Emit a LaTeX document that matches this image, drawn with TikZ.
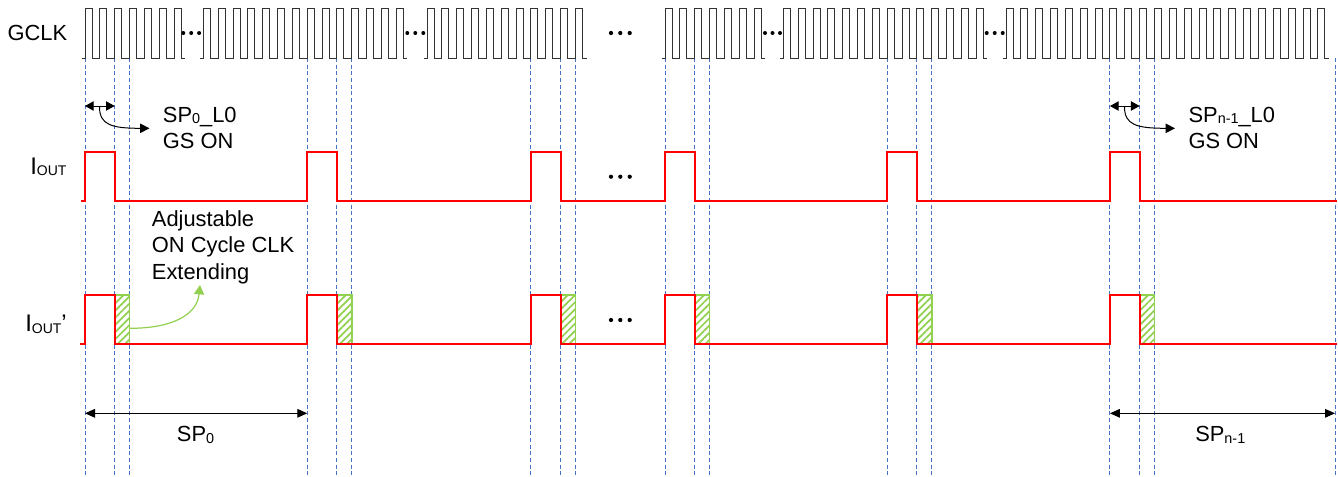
\documentclass[tikz,border=0pt]{standalone}
\usepackage{fontspec}
\setmainfont{Liberation Sans}
\usetikzlibrary{arrows.meta,patterns.meta}
\definecolor{gridblue}{RGB}{68,114,196}
\definecolor{sigred}{RGB}{255,0,0}
\definecolor{hatchgreen}{RGB}{146,208,80}
\newcommand\lowsub[1]{\raisebox{-1.2pt}{\fontsize{10.8}{12}\selectfont #1}}
\newcommand\ioutsub[1]{\raisebox{-1pt}{\fontsize{10.5}{12}\selectfont #1}}
\newcommand\clkseg[2]{%
  \draw[clk] ({#1-3.5},58) \foreach \k in {1,...,#2} { -- ({#1+(\k-1)*14.85},58) -- ++(0,-50) -- ++(7,0) -- ++(0,50) } -- ++(4,0);}
\begin{document}
\begin{tikzpicture}[x=0.75pt,y=-0.75pt,
  clk/.style={line width=0.75pt, black!80, line join=miter},
  gridline/.style={gridblue, line width=0.7pt, dash pattern=on 3pt off 2pt},
  sig/.style={sigred, line width=1.7pt, line join=miter},
  hatchbox/.style={draw=hatchgreen, line width=1.2pt, pattern={Lines[angle=45,distance=3.8pt,line width=1.3pt]}, pattern color=hatchgreen},
  lbl/.style={font=\fontsize{16.4}{19.5}\selectfont, inner sep=0pt, anchor=base west},
  ilbl/.style={font=\fontsize{18}{21}\selectfont, inner sep=0pt, anchor=base west},
  dimarr/.style={line width=0.75pt, {Triangle[length=7.5pt,width=6.5pt]}-{Triangle[length=7.5pt,width=6.5pt]}},
  smallarr/.style={line width=0.75pt, {Triangle[length=6.5pt,width=7pt]}-{Triangle[length=6.5pt,width=7pt]}},
  curvarr/.style={line width=0.75pt, -{Triangle[length=7pt,width=7pt]}},
  greenarr/.style={hatchgreen, line width=0.9pt, -{Triangle[length=7pt,width=7.5pt]}},
  dot/.style={fill=black, draw=none}
]
\useasboundingbox[fill=white] (0,0) rectangle (1338,476);

% dashed timing guides
\foreach \x in {85,114.7,129.55,307.25,336.95,351.8,530.95,560.65,575.5,665,694.7,709.55,887.25,916.95,931.8,1109.95,1139.65,1154.5,1335}
  \draw[gridline] (\x,58) -- (\x,476);

% GCLK
\node[lbl] (gclk) at (7.3,40.7) {GCLK};
\clkseg{85}{7}
\clkseg{203.3}{14}
\clkseg{427}{11}
\clkseg{665}{7}
\clkseg{783.3}{14}
\clkseg{1006}{22}
\foreach \x in {183.3,191.2,199.1,407.3,415.3,423.3,765,772.5,780,986.7,994.7,1002.7}
  \fill[dot] (\x,33) circle[radius=1.5pt];
\foreach \x in {611,620.3,629.7}
  \fill[dot] (\x,33) circle[radius=1.6pt];

% top annotations
\coordinate (a0L) at (85,106);
\coordinate (a0R) at (114.7,106);
\draw[smallarr] (a0L) -- (a0R);
\node[lbl] (sp0l0) at (162.7,122.3) {SP\lowsub{0}\_L0};
\node[lbl] (gson0) at (162.7,148) {GS ON};
\coordinate (c0s) at (99.5,107);
\coordinate (c0e) at (149.5,128.3);
\draw[curvarr] (c0s) .. controls (99.5,125) and (112,128.3) .. (c0e);

\coordinate (anL) at (1109.95,106);
\coordinate (anR) at (1139.65,106);
\draw[smallarr] (anL) -- (anR);
\node[lbl] (spnl0) at (1188.3,122.3) {SP\lowsub{n-1}\_L0};
\node[lbl] (gsonn) at (1188.3,148) {GS ON};
\coordinate (cns) at (1124.5,107);
\coordinate (cne) at (1175,128.3);
\draw[curvarr] (cns) .. controls (1124.5,125) and (1137,128.3) .. (cne);

% IOUT
\node[ilbl] (iout) at (30,174.3) {I\ioutsub{OUT}};
\draw[sig] (81,201) \foreach \a/\b in {85/114.7,307.25/336.95,530.95/560.65,665/694.7,887.25/916.95,1109.95/1139.65}
  { -- (\a,201) -- (\a,152) -- (\b,152) -- (\b,201) } -- (1337,201);
\foreach \x in {611,620.3,629.7}
  \fill[dot] (\x,176.7) circle[radius=1.6pt];

% IOUT'
\node[ilbl] (ioutp) at (25,331.7) {I\ioutsub{OUT}’};
\foreach \b/\c in {114.7/129.55,336.95/351.8,560.65/575.5,694.7/709.55,916.95/931.8,1139.65/1154.5}
  \path[hatchbox] (\b,295) rectangle (\c,344.3);
\draw[sig] (80,344.3) \foreach \a/\b in {85/114.7,307.25/336.95,530.95/560.65,665/694.7,887.25/916.95,1109.95/1139.65}
  { -- (\a,344.3) -- (\a,295) -- (\b,295) -- (\b,344.3) } -- (1337,344.3);
\foreach \x in {611,620.3,629.7}
  \fill[dot] (\x,320) circle[radius=1.6pt];

% Adjustable annotation
\node[lbl] (adj1) at (151.7,226) {Adjustable};
\node[lbl] (adj2) at (151.7,252.5) {ON Cycle CLK};
\node[lbl] (adj3) at (151.7,279) {Extending};
\coordinate (gs) at (130,328.3);
\coordinate (ge) at (200,285);
\draw[greenarr] (gs) .. controls (172,328.3) and (197,315) .. (ge);

% bottom period arrows
\coordinate (p0L) at (85,413.3);
\coordinate (p0R) at (307.25,413.3);
\draw[dimarr] (p0L) -- (p0R);
\node[lbl] (sp0) at (176.7,441.7) {SP\lowsub{0}};
\coordinate (pnL) at (1109.95,413.3);
\coordinate (pnR) at (1335,413.3);
\draw[dimarr] (pnL) -- (pnR);
\node[lbl] (spn) at (1195,441.7) {SP\lowsub{n-1}};
\end{tikzpicture}
\end{document}
